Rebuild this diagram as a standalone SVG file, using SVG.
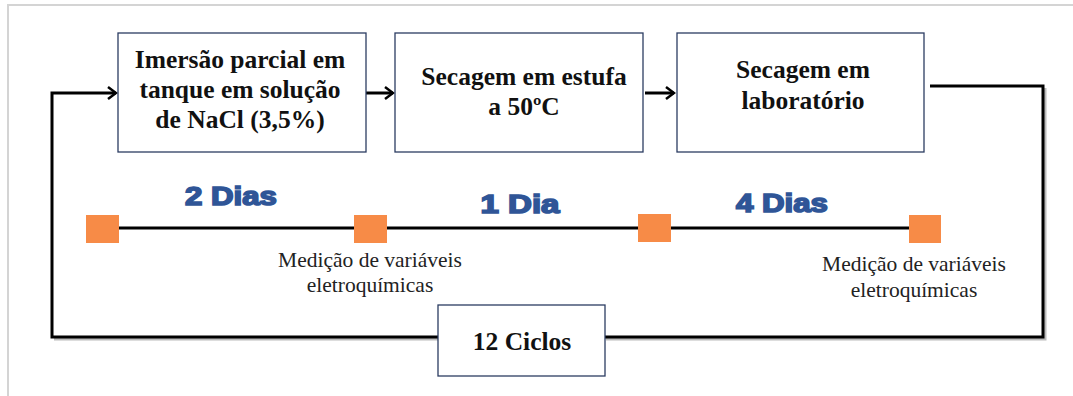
<svg xmlns="http://www.w3.org/2000/svg" width="1073" height="396" viewBox="0 0 1073 396">
<style>
.box{fill:#fff;stroke:#2b3c62;stroke-width:1.3}
.bt{font-family:"Liberation Serif","Times New Roman",serif;font-weight:bold;font-size:25.5px;fill:#111;text-anchor:middle}
.lbl{font-family:"Liberation Sans",Arial,sans-serif;font-weight:900;font-size:25px;fill:#2f5597;stroke:#2f5597;stroke-width:1.6;text-anchor:middle}
.note{font-family:"Liberation Serif","Times New Roman",serif;font-size:21.5px;fill:#222;text-anchor:middle}
.wire{fill:none;stroke:#000;stroke-width:3}
.shadow{fill:none;stroke:#bbb;stroke-width:3}
.sq{fill:#f78b47}
</style>
<defs>
<marker id="arr" markerWidth="12" markerHeight="14" refX="10" refY="7" orient="auto" markerUnits="userSpaceOnUse">
<polyline points="2,1 10,7 2,13" fill="none" stroke="#000" stroke-width="2.5"/>
</marker>
</defs>
<rect width="1073" height="396" fill="#fff"/>
<path d="M8,396 V5 H1073" fill="none" stroke="#d4d4d4" stroke-width="2"/>
<g id="connectors">
<path class="shadow" d="M54,339 H438 M606,339 H1045 V88"/>
<path class="wire" d="M438,337 H52 V93 H116" marker-end="url(#arr)"/>
<path class="wire" d="M366,93 H393" marker-end="url(#arr)"/>
<path class="wire" d="M645,93 H674" marker-end="url(#arr)"/>
<path class="wire" d="M930,86 H1043 V337 H605"/>
<path class="wire" d="M119,228 H909"/>
</g>
<g id="node1">
<rect class="box" x="118" y="33" width="248" height="119"/>
<text class="bt" x="240" y="68">Imersão parcial em</text>
<text class="bt" x="240" y="98">tanque em solução</text>
<text class="bt" x="240" y="128">de NaCl (3,5%)</text>
</g>
<g id="node2">
<rect class="box" x="395" y="33" width="248" height="119"/>
<text class="bt" x="524" y="85">Secagem em estufa</text>
<text class="bt" x="524" y="115">a 50ºC</text>
</g>
<g id="node3">
<rect class="box" x="677" y="33" width="247" height="119"/>
<text class="bt" x="803" y="78">Secagem em</text>
<text class="bt" x="803" y="109">laboratório</text>
</g>
<g id="node4">
<rect class="box" x="438" y="305" width="167" height="71"/>
<text class="bt" x="522" y="350">12 Ciclos</text>
</g>
<g id="timeline">
<rect class="sq" x="86" y="215" width="33" height="28"/>
<rect class="sq" x="354" y="215" width="33" height="28"/>
<rect class="sq" x="638" y="214" width="33" height="28"/>
<rect class="sq" x="909" y="215" width="32" height="28"/>
<text class="lbl" x="231" y="205" textLength="92" lengthAdjust="spacingAndGlyphs">2 Dias</text>
<text class="lbl" x="520" y="213" textLength="79" lengthAdjust="spacingAndGlyphs">1 Dia</text>
<text class="lbl" x="782" y="212" textLength="92" lengthAdjust="spacingAndGlyphs">4 Dias</text>
<text class="note" x="370" y="267">Medição de variáveis</text>
<text class="note" x="370" y="292">eletroquímicas</text>
<text class="note" x="914" y="271">Medição de variáveis</text>
<text class="note" x="914" y="297">eletroquímicas</text>
</g>
</svg>
